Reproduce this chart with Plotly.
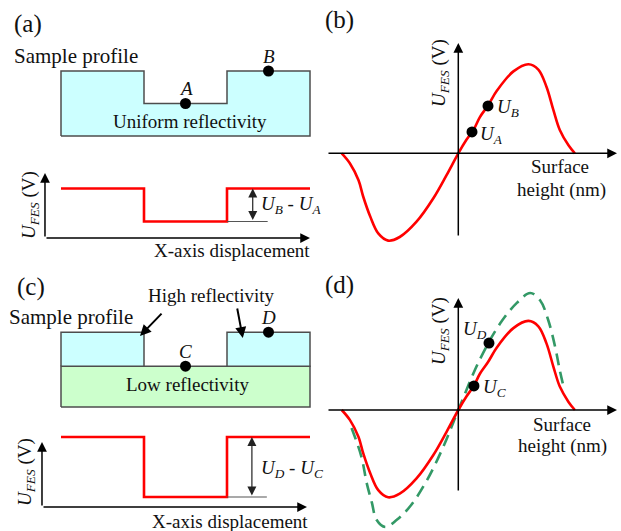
import plotly.graph_objects as go

# ---------------- data ----------------
# sample profile (displacement units): segment edges and surface heights
seg_edges = [0, 1, 2, 3]
surface_a = [2, 1, 2]            # (a) uniform reflectivity, step profile
low_layer = 1.2                   # (c) low-reflectivity base thickness
high_layer = 1.0                  # (c) high-reflectivity block thickness
high_blocks = [True, False, True]

# FES signal levels per segment
signal_a = [3, 1, 3]
signal_c = [7, 1, 7]

# sample points
pts_ab_x = [1.5, 2.5]
pts_ab_y = [1, 2]
pts_ab_lab = ["A", "B"]
pts_cd_x = [1.5, 2.5]
pts_cd_y = [1.2, 2.2]
pts_cd_lab = ["C", "D"]

# S-curve: U_FES vs surface height (arbitrary units)
curve_h = [-2.01, -1.87, -1.72, -1.64, -1.52, -1.38, -1.21, -1.01, -0.72, -0.43, -0.20,
           0.0, 0.14, 0.27, 0.37, 0.51, 0.67, 0.95, 1.21, 1.38, 1.52, 1.64, 1.75, 1.90, 2.01]
curve_u = [0.0, -0.11, -0.30, -0.48, -0.70, -0.89, -0.97, -0.93, -0.76, -0.50, -0.24,
           0.0, 0.15, 0.27, 0.40, 0.53, 0.70, 0.91, 0.99, 0.93, 0.74, 0.48, 0.26, 0.09, 0.0]
# high-reflectivity S-curve (dashed, panel d)
hi_h = [-1.84, -1.67, -1.58, -1.49, -1.41, -1.26, -1.06, -0.83, -0.54, -0.26, 0.0,
        0.37, 0.72, 1.01, 1.24, 1.41, 1.55, 1.67, 1.75, 1.83]
hi_u = [-0.20, -0.52, -0.81, -1.03, -1.22, -1.30, -1.22, -1.07, -0.78, -0.41, 0.0,
        0.56, 0.96, 1.19, 1.30, 1.22, 1.00, 0.70, 0.44, 0.22]

ua_ub_h = [0.236, 0.512]
ua_ub_u = [0.237, 0.526]
uc_ud_h = [0.27, 0.529]
uc_ud_u = [0.267, 0.744]

# ---------------- layout helpers ----------------
W, H = 621, 531
FONT = "Liberation Serif"
TXT = "#111111"
RED = "#FF0000"
GREEN = "#339966"
EDGE = "#4d4d4d"

def xaxis(p0, p1, origin, scale):
    return dict(domain=[p0 / W, p1 / W], range=[(p0 - origin) / scale, (p1 - origin) / scale],
                visible=False, fixedrange=True)

def yaxis(top, bottom, origin, scale, anchor):
    return dict(domain=[1 - bottom / H, 1 - top / H],
                range=[(origin - bottom) / scale, (origin - top) / scale],
                visible=False, fixedrange=True, anchor=anchor)

fig = go.Figure()
ann = []

def add(trace, k):
    trace.update(xaxis="x" if k == 1 else f"x{k}", yaxis="y" if k == 1 else f"y{k}",
                 showlegend=False, hoverinfo="skip")
    fig.add_trace(trace)

def ref(k):
    return ("x" if k == 1 else f"x{k}", "y" if k == 1 else f"y{k}")

def arrow(k, x0, y0, x1, y1, width=1.5, size=1.3, color="black", both=False):
    xr, yr = ref(k)
    ann.append(dict(x=x1, y=y1, ax=x0, ay=y0, xref=xr, yref=yr, axref=xr, ayref=yr,
                    text="", showarrow=True, arrowhead=2, arrowsize=size, arrowwidth=width,
                    arrowcolor=color, startarrowhead=2, startarrowsize=size,
                    arrowside="end+start" if both else "end", standoff=0, startstandoff=0))

def label(text, x, y, k=None, size=19, xanchor="center", yanchor="middle", angle=0,
          yshift=0, xshift=0):
    if k is None:
        xr, yr = "paper", "paper"
        x, y = x / W, 1 - y / H
    else:
        xr, yr = ref(k)
    ann.append(dict(x=x, y=y, xref=xr, yref=yr, text=text, showarrow=False,
                    xanchor=xanchor, yanchor=yanchor, textangle=angle, yshift=yshift,
                    xshift=xshift, font=dict(family=FONT, size=size, color=TXT)))

def line(k, xs, ys, color="black", width=1.5, dash="solid", shape="linear"):
    add(go.Scatter(x=xs, y=ys, mode="lines", line=dict(color=color, width=width, dash=dash,
                                                       shape=shape)), k)

def poly(k, xs, ys, fill):
    add(go.Scatter(x=xs, y=ys, mode="lines", fill="toself", fillcolor=fill,
                   line=dict(color=EDGE, width=1.5)), k)

def points(k, xs, ys):
    add(go.Scatter(x=xs, y=ys, mode="markers",
                   marker=dict(color="black", size=11)), k)

# ---------------- (a) profile : axis 1 ----------------
prof_x = [seg_edges[0]]
prof_y = [0]
for i, hgt in enumerate(surface_a):
    prof_x += [seg_edges[i], seg_edges[i + 1]]
    prof_y += [hgt, hgt]
prof_x += [seg_edges[-1], seg_edges[0]]
prof_y += [0, 0]
poly(1, prof_x, prof_y, "#CCFFFF")
points(1, pts_ab_x, pts_ab_y)
for x, y, t in zip(pts_ab_x, pts_ab_y, pts_ab_lab):
    label(f"<i>{t}</i>", x, y, k=1, size=19, yshift=15)
label("Uniform reflectivity", 1.55, 0.46, k=1)

# ---------------- (a) signal : axis 2 ----------------
line(2, seg_edges, signal_a + [signal_a[-1]], color=RED, width=2.6, shape="hv")
line(2, [seg_edges[2], 2.49], [signal_a[1], signal_a[1]], color="#555555", width=1.2)
arrow(2, 2.31, signal_a[1], 2.31, signal_a[2], width=1.2, size=1.5, color="#222222", both=True)
arrow(2, -0.193, 0, -0.193, 3.94)
arrow(2, -0.193, 0, 3.0, 0)
label("<i>U<sub>B</sub></i> - <i>U<sub>A</sub></i>", 2.38, 2.0, k=2, xanchor="left")
label("X-axis displacement", 2.06, -0.73, k=2)

# ---------------- (c) profile : axis 3 ----------------
e0, e1 = seg_edges[0], seg_edges[-1]
poly(3, [e0, e0, e1, e1, e0], [0, low_layer, low_layer, 0, 0], "#CCFFCC")
for i, hb in enumerate(high_blocks):
    if hb:
        a, b = seg_edges[i], seg_edges[i + 1]
        t0, t1 = low_layer, low_layer + high_layer
        poly(3, [a, a, b, b, a], [t0, t1, t1, t0, t0], "#CCFFFF")
points(3, pts_cd_x, pts_cd_y)
for x, y, t in zip(pts_cd_x, pts_cd_y, pts_cd_lab):
    label(f"<i>{t}</i>", x, y, k=3, size=19, yshift=15)
label("Low reflectivity", 1.53, 0.65, k=3)
arrow(3, 1.229, 2.79, 0.952, 2.09, width=2, size=1.1)
arrow(3, 2.12, 2.94, 2.19, 2.03, width=2, size=1.1)

# ---------------- (c) signal : axis 4 ----------------
line(4, seg_edges, signal_c + [signal_c[-1]], color=RED, width=2.6, shape="hv")
line(4, [seg_edges[2], 2.48], [signal_c[1], signal_c[1]], color="#555555", width=1.2)
arrow(4, 2.30, signal_c[1], 2.30, signal_c[2], width=1.2, size=1.5, color="#222222", both=True)
arrow(4, -0.229, 0, -0.229, 6.5)
arrow(4, -0.229, 0, 2.964, 0)
label("<i>U<sub>D</sub></i> - <i>U<sub>C</sub></i>", 2.38, 3.8, k=4, xanchor="left")
label("X-axis displacement", 2.04, -1.45, k=4)

# ---------------- (b) : axis 5 ----------------
arrow(5, -2.264, 0, 2.736, 0)
arrow(5, 0, -0.93, 0, 1.226)
line(5, curve_h, curve_u, color=RED, width=2.6, shape="spline")
points(5, ua_ub_h, ua_ub_u)
label("<i>U<sub>A</sub></i>", ua_ub_h[0], ua_ub_u[0], k=5, xanchor="left", xshift=6, yshift=-3)
label("<i>U<sub>B</sub></i>", ua_ub_h[1], ua_ub_u[1], k=5, xanchor="left", xshift=7, yshift=-2)

# ---------------- (d) : axis 6 ----------------
arrow(6, -2.264, 0, 2.736, 0)
arrow(6, 0, -0.911, 0, 1.244)
line(6, hi_h, hi_u, color=GREEN, width=2.6, dash="12px,7px", shape="spline")
line(6, curve_h, curve_u, color=RED, width=2.6, shape="spline")
points(6, uc_ud_h, uc_ud_u)
label("<i>U<sub>C</sub></i>", uc_ud_h[0], uc_ud_u[0], k=6, xanchor="left", xshift=7, yshift=-2)
label("<i>U<sub>D</sub></i>", uc_ud_h[1], uc_ud_u[1], k=6, xanchor="right", xshift=0, yshift=13)

# ---------------- free text ----------------
label("(a)", 12, 24, size=25, xanchor="left")
label("(b)", 323, 20, size=25, xanchor="left")
label("(c)", 15, 287, size=25, xanchor="left")
label("(d)", 323, 285, size=25, xanchor="left")
label("Sample profile", 12, 56, size=21, xanchor="left")
label("Sample profile", 7, 317, size=21, xanchor="left")
label("High reflectivity", 211, 295)
ufes = "<i>U<sub>FES</sub></i> (V)"
label(ufes, 30, 205, angle=-90)
label(ufes, 26, 472, angle=-90)
label(ufes, 440, 73, angle=-90)
label(ufes, 440, 331, angle=-90)
label("Surface", 560, 167)
label("height (nm)", 561, 190)
label("Surface", 562, 424)
label("height (nm)", 562, 446)

Lx = xaxis(0, 320, 61, 83)
fig.update_layout(
    width=W, height=H, margin=dict(l=0, r=0, t=0, b=0),
    paper_bgcolor="white", plot_bgcolor="rgba(0,0,0,0)",
    xaxis=dict(Lx, anchor="y"), yaxis=yaxis(30, 150, 136, 32.5, "x"),
    xaxis2=dict(Lx, anchor="y2"), yaxis2=yaxis(160, 265, 238, 16.5, "x2"),
    xaxis3=dict(Lx, anchor="y3"), yaxis3=yaxis(285, 412, 407, 34, "x3"),
    xaxis4=dict(Lx, anchor="y4"), yaxis4=yaxis(425, 531, 507, 10, "x4"),
    xaxis5=dict(xaxis(320, 621, 458.3, 58), anchor="y5"), yaxis5=yaxis(25, 255, 153.3, 90, "x5"),
    xaxis6=dict(xaxis(320, 621, 458.3, 58), anchor="y6"), yaxis6=yaxis(268, 531, 410, 90, "x6"),
    annotations=ann,
)
fig.write_html("out.html", config={"displayModeBar": False},
               post_script="document.body.style.margin='0';document.body.style.padding='0';"
                           "document.documentElement.style.overflow='hidden';")
